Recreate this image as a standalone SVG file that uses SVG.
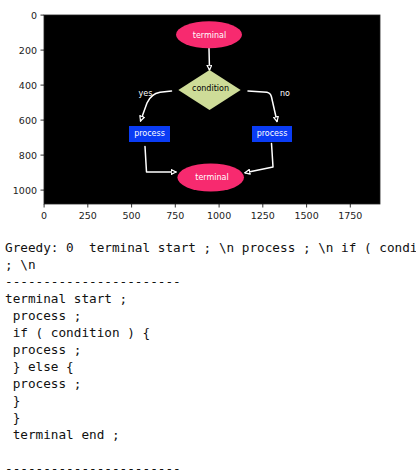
<svg xmlns="http://www.w3.org/2000/svg" width="416" height="476" viewBox="0 0 416 476">
<style>
.tick{stroke:#000;stroke-width:0.8}
.tl{font-family:"DejaVu Sans",sans-serif;font-size:9.5px;fill:#222}
.lbl{font-family:"DejaVu Sans",sans-serif;font-size:8px;fill:#fff;text-anchor:middle}
.dark{fill:#000}
.conn path{fill:none;stroke:#fff;stroke-width:1.5;stroke-linecap:round;stroke-linejoin:round;marker-end:url(#ah)}
.term{fill:#f72a6f}
.proc{fill:#0a3cf5}
.cond{fill:#cedc98}
.code{font-family:"DejaVu Sans Mono","Liberation Mono",monospace;font-size:12.7px;fill:#111}
</style>
<defs>
<marker id="ah" viewBox="0 0 10 10" refX="9" refY="5" markerWidth="6" markerHeight="6" markerUnits="userSpaceOnUse" orient="auto">
<path d="M1,1 L9,5 L1,9 Z" fill="#000" stroke="#fff" stroke-width="2" stroke-linejoin="round"/>
</marker>
</defs>
<rect width="416" height="476" fill="#fff"/>
<g id="axes">
<rect x="44" y="15" width="336" height="189" fill="#000" stroke="#222" stroke-width="0.8"/>
<g class="tick">
<line x1="44.1" y1="204" x2="44.1" y2="207.5"/>
<line x1="87.8" y1="204" x2="87.8" y2="207.5"/>
<line x1="131.6" y1="204" x2="131.6" y2="207.5"/>
<line x1="175.3" y1="204" x2="175.3" y2="207.5"/>
<line x1="219.1" y1="204" x2="219.1" y2="207.5"/>
<line x1="262.8" y1="204" x2="262.8" y2="207.5"/>
<line x1="306.6" y1="204" x2="306.6" y2="207.5"/>
<line x1="350.3" y1="204" x2="350.3" y2="207.5"/>
<line x1="40.5" y1="15.1" x2="44" y2="15.1"/>
<line x1="40.5" y1="50.1" x2="44" y2="50.1"/>
<line x1="40.5" y1="85.1" x2="44" y2="85.1"/>
<line x1="40.5" y1="120.1" x2="44" y2="120.1"/>
<line x1="40.5" y1="155.1" x2="44" y2="155.1"/>
<line x1="40.5" y1="190.1" x2="44" y2="190.1"/>
</g>
<g class="tl" text-anchor="middle">
<text x="44.1" y="218.5">0</text>
<text x="87.8" y="218.5">250</text>
<text x="131.6" y="218.5">500</text>
<text x="175.3" y="218.5">750</text>
<text x="219.1" y="218.5">1000</text>
<text x="262.8" y="218.5">1250</text>
<text x="306.6" y="218.5">1500</text>
<text x="350.3" y="218.5">1750</text>
</g>
<g class="tl" text-anchor="end">
<text x="37" y="18.6">0</text>
<text x="37" y="53.6">200</text>
<text x="37" y="88.6">400</text>
<text x="37" y="123.6">600</text>
<text x="37" y="158.6">800</text>
<text x="37" y="193.6">1000</text>
</g>
</g>
<g id="connectors" class="conn">
<path d="M209,48.5 L209.5,70"/>
<path d="M171.5,91 L160,92.3 Q151,94 147,103 L140.5,121"/>
<path d="M248,91 L267,92.3 Q270.5,93 271.5,97 L277,121.5"/>
<path d="M145,146.5 L146.5,172 L176,172"/>
<path d="M271.5,143.5 L273,167 L245,172.8"/>
</g>
<g id="label-yes"><text class="lbl" x="145.5" y="96">yes</text></g>
<g id="label-no"><text class="lbl" x="285" y="96">no</text></g>
<g id="start">
<ellipse class="term" cx="209" cy="34.7" rx="33" ry="13.5"/>
<text class="lbl" x="209.5" y="37.5">terminal</text>
</g>
<g id="condition">
<polygon class="cond" points="209.5,70 240.7,90 209.5,110 178.3,90"/>
<text class="lbl dark" x="210.5" y="91">condition</text>
</g>
<g id="process-yes">
<rect class="proc" x="129" y="126" width="41" height="16"/>
<text class="lbl" x="149.5" y="136">process</text>
</g>
<g id="process-no">
<rect class="proc" x="252" y="126" width="40" height="16"/>
<text class="lbl" x="272" y="136">process</text>
</g>
<g id="end">
<ellipse class="term" cx="210.7" cy="177.5" rx="33.3" ry="14"/>
<text class="lbl" x="212" y="180">terminal</text>
</g>
<g id="output" class="code">
<text x="5" y="252.3">Greedy: 0&#160; terminal start ; \n process ; \n if ( condi</text>
<text x="5" y="269.3">; \n</text>
<text x="5" y="286.3">-----------------------</text>
<text x="5" y="303.3">terminal start ;</text>
<text x="12.65" y="320.3">process ;</text>
<text x="12.65" y="337.3">if ( condition ) {</text>
<text x="12.65" y="354.3">process ;</text>
<text x="12.65" y="371.3">} else {</text>
<text x="12.65" y="388.3">process ;</text>
<text x="12.65" y="405.3">}</text>
<text x="12.65" y="422.3">}</text>
<text x="12.65" y="439.3">terminal end ;</text>
<text x="5" y="473.3">-----------------------</text>
</g>
</svg>
